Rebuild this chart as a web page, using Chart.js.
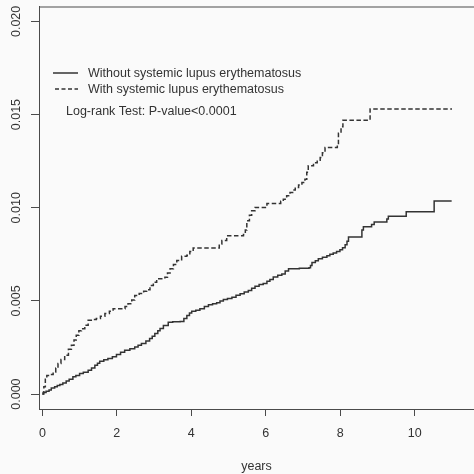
<!DOCTYPE html>
<html>
<head>
<meta charset="utf-8">
<script src="https://cdn.jsdelivr.net/npm/chart.js@4.4.0/dist/chart.umd.min.js"></script>
<style>
  html, body { margin: 0; padding: 0; background: #fafafa; overflow: hidden; }
  #chart { display: block; }
</style>
</head>
<body>
<canvas id="chart" width="474" height="474"></canvas>
<script>
// Cumulative incidence, step times (years) and values after each step
const withoutYears = [0, 0.02, 0.1, 0.18, 0.24, 0.33, 0.4, 0.47, 0.55, 0.64, 0.72, 0.82, 0.9, 1.0, 1.1, 1.23, 1.32, 1.41, 1.48, 1.54, 1.65, 1.76, 1.88, 1.99, 2.1, 2.21, 2.35, 2.48, 2.57, 2.66, 2.78, 2.88, 2.95, 3.02, 3.1, 3.16, 3.25, 3.38, 3.5, 3.7, 3.8, 3.88, 3.95, 4.01, 4.12, 4.23, 4.35, 4.46, 4.57, 4.68, 4.77, 4.86, 4.97, 5.09, 5.2, 5.31, 5.42, 5.53, 5.62, 5.71, 5.82, 5.93, 6.03, 6.11, 6.2, 6.32, 6.43, 6.52, 6.61, 6.9, 7.16, 7.2, 7.24, 7.33, 7.41, 7.52, 7.64, 7.72, 7.81, 7.9, 7.99, 8.06, 8.13, 8.18, 8.22, 8.58, 8.62, 8.84, 8.91, 9.25, 9.29, 9.77, 10.52, 10.99];
const withoutRisk = [0, 0.00008, 0.00015, 0.00022, 0.00033, 0.0004, 0.00046, 0.00052, 0.0006, 0.0007, 0.0008, 0.00093, 0.001, 0.0011, 0.00117, 0.00128, 0.0014, 0.00155, 0.00166, 0.00176, 0.00184, 0.00191, 0.002, 0.00212, 0.00224, 0.00235, 0.00244, 0.00253, 0.00262, 0.00271, 0.00285, 0.00298, 0.0031, 0.00325, 0.0034, 0.00352, 0.00368, 0.00385, 0.00388, 0.0039, 0.00405, 0.00422, 0.00435, 0.00444, 0.0045, 0.00458, 0.0047, 0.0048, 0.00485, 0.0049, 0.005, 0.00508, 0.00513, 0.0052, 0.0053, 0.00538, 0.00548, 0.00556, 0.00568, 0.00579, 0.00588, 0.00594, 0.00605, 0.00615, 0.00628, 0.00638, 0.00645, 0.0066, 0.00672, 0.00675, 0.00678, 0.0069, 0.00706, 0.00715, 0.00726, 0.00735, 0.00743, 0.0075, 0.00757, 0.00765, 0.00774, 0.00786, 0.00802, 0.0082, 0.00843, 0.0088, 0.00898, 0.0091, 0.00923, 0.0094, 0.00955, 0.00979, 0.01036, 0.01036];

const withYears = [0, 0.04, 0.08, 0.12, 0.2, 0.29, 0.36, 0.42, 0.5, 0.6, 0.7, 0.78, 0.85, 0.91, 0.98, 1.05, 1.14, 1.23, 1.35, 1.45, 1.56, 1.68, 1.8, 1.9, 2.22, 2.3, 2.4, 2.48, 2.6, 2.72, 2.8, 2.89, 2.98, 3.07, 3.29, 3.36, 3.43, 3.52, 3.61, 3.74, 3.88, 3.96, 4.05, 4.75, 4.82, 4.95, 5.4, 5.45, 5.49, 5.56, 5.62, 5.71, 6.03, 6.4, 6.47, 6.56, 6.65, 6.72, 6.79, 6.88, 6.97, 7.05, 7.1, 7.14, 7.28, 7.38, 7.46, 7.52, 7.59, 7.92, 7.95, 8.02, 8.07, 8.8, 11.0];
const withRisk = [0, 0.0004, 0.0008, 0.001, 0.00105, 0.00119, 0.0014, 0.00164, 0.00185, 0.00209, 0.0024, 0.00262, 0.0029, 0.00316, 0.0034, 0.00351, 0.0037, 0.00396, 0.004, 0.00405, 0.00418, 0.00432, 0.00445, 0.00458, 0.0047, 0.00485, 0.00505, 0.00529, 0.0054, 0.00552, 0.0056, 0.00583, 0.006, 0.00619, 0.00627, 0.0065, 0.00672, 0.00695, 0.00717, 0.0074, 0.00745, 0.00765, 0.00784, 0.00805, 0.00824, 0.0085, 0.00856, 0.0088, 0.0093, 0.0096, 0.00984, 0.01002, 0.01023, 0.01035, 0.01046, 0.01065, 0.01082, 0.01095, 0.01109, 0.01122, 0.01135, 0.01153, 0.0119, 0.01225, 0.01242, 0.01255, 0.01269, 0.01295, 0.01323, 0.01335, 0.014, 0.01435, 0.0147, 0.0153, 0.0153];

const xTicks = [0, 2, 4, 6, 8, 10];
const yTicks = [0, 0.005, 0.010, 0.015, 0.020];
const yTickLabels = ['0.000', '0.005', '0.010', '0.015', '0.020'];

const seriesNames = ['Without systemic lupus erythematosus', 'With systemic lupus erythematosus'];
const testLabel = 'Log-rank Test: P-value<0.0001';
const xTitle = 'years';

const FONT = 'Liberation Sans, Arial, sans-serif';
const TEXT = '#333333';
const AXIS = '#4a4a4a';
const LINE = '#333333';

function toPoints(xs, ys) {
  return xs.map((x, i) => ({ x: x, y: ys[i] }));
}

// background, top border, legend and test text
const decor = {
  id: 'decor',
  beforeDraw(chart) {
    const ctx = chart.ctx;
    ctx.save();
    ctx.fillStyle = '#fafafa';
    ctx.fillRect(0, 0, chart.width, chart.height);
    ctx.restore();
  },
  afterDraw(chart) {
    const ctx = chart.ctx;
    const a = chart.chartArea;
    ctx.save();
    ctx.strokeStyle = AXIS;
    ctx.lineWidth = 1;
    ctx.beginPath();
    ctx.moveTo(a.left, a.top + 0.5);
    ctx.lineTo(a.right, a.top + 0.5);
    ctx.stroke();

    ctx.font = '12.5px ' + FONT;
    ctx.fillStyle = TEXT;
    ctx.textBaseline = 'middle';
    ctx.strokeStyle = LINE;
    ctx.lineWidth = 1.5;
    const rows = [73, 89];
    rows.forEach((y, i) => {
      ctx.setLineDash(i === 0 ? [] : [4, 2.5]);
      ctx.beginPath();
      ctx.moveTo(i === 0 ? 53 : 55, y);
      ctx.lineTo(78, y);
      ctx.stroke();
      ctx.fillText(seriesNames[i], 88, y + 1);
    });
    ctx.setLineDash([]);
    ctx.fillText(testLabel, 66, 112);
    ctx.restore();
  }
};

new Chart(document.getElementById('chart'), {
  type: 'line',
  data: {
    datasets: [
      {
        label: seriesNames[0],
        data: toPoints(withoutYears, withoutRisk),
        borderColor: LINE,
        borderWidth: 1.5,
        stepped: 'before',
        pointRadius: 0,
        fill: false
      },
      {
        label: seriesNames[1],
        data: toPoints(withYears, withRisk),
        borderColor: LINE,
        borderWidth: 1.5,
        borderDash: [4.5, 2.5],
        stepped: 'before',
        pointRadius: 0,
        fill: false
      }
    ]
  },
  options: {
    responsive: false,
    animation: false,
    devicePixelRatio: 1,
    layout: { padding: { top: 5, right: 0, bottom: 0, left: 0 } },
    scales: {
      x: {
        type: 'linear',
        position: 'bottom',
        min: -0.09,
        max: 11.59,
        afterBuildTicks: (scale) => { scale.ticks = xTicks.map(v => ({ value: v })); },
        afterFit: (scale) => { scale.height = 65; },
        grid: { drawOnChartArea: false, drawTicks: true, tickLength: 7, color: AXIS },
        border: { display: true, color: AXIS, width: 1 },
        ticks: {
          color: TEXT,
          font: { family: FONT, size: 12.5 },
          padding: 10,
          maxRotation: 0,
          autoSkip: false,
          callback: (v) => String(v)
        },
        title: {
          display: true,
          text: xTitle,
          color: TEXT,
          font: { family: FONT, size: 12.5 },
          padding: { top: 0, bottom: 0 }
        }
      },
      y: {
        type: 'linear',
        position: 'left',
        min: -0.0008,
        max: 0.0208,
        afterBuildTicks: (scale) => { scale.ticks = yTicks.map(v => ({ value: v })); },
        afterFit: (scale) => { scale.width = 39; },
        grid: { drawOnChartArea: false, drawTicks: true, tickLength: 8, color: AXIS },
        border: { display: true, color: AXIS, width: 1 },
        ticks: {
          color: TEXT,
          font: { family: FONT, size: 12.5 },
          padding: -1,
          minRotation: 90,
          maxRotation: 90,
          crossAlign: 'center',
          autoSkip: false,
          callback: (v, i) => yTickLabels[i]
        }
      }
    },
    plugins: {
      legend: { display: false },
      tooltip: { enabled: false },
      title: { display: false }
    }
  },
  plugins: [decor]
});
</script>
</body>
</html>
